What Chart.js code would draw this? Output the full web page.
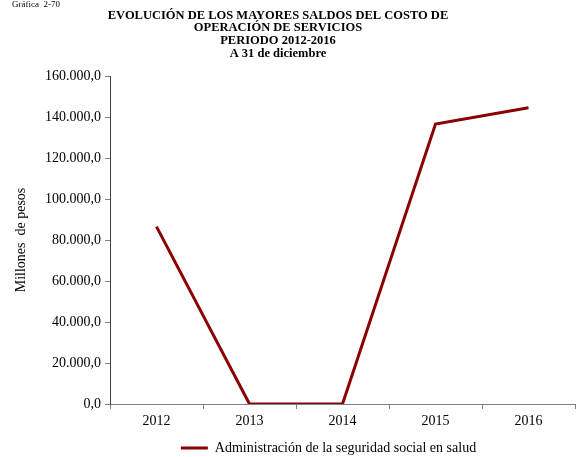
<!DOCTYPE html>
<html>
<head>
<meta charset="utf-8">
<script src="https://cdn.jsdelivr.net/npm/chart.js@4/dist/chart.umd.min.js"></script>
<style>
html,body{margin:0;padding:0;background:#fff;}
#wrap{width:577px;height:457px;position:relative;}
</style>
</head>
<body>
<div id="wrap"><canvas id="c" width="577" height="457"></canvas></div>
<script>
const categories = ['2012', '2013', '2014', '2015', '2016'];
const seriesName = 'Administración de la seguridad social en salud';
const seriesValues = [86500, 0, 0, 136600, 144500];
const yTicks = [0, 20000, 40000, 60000, 80000, 100000, 120000, 140000, 160000];
const titleLines = ['EVOLUCIÓN DE LOS MAYORES SALDOS DEL COSTO DE', 'OPERACIÓN DE SERVICIOS', 'PERIODO 2012-2016', 'A 31 de diciembre'];
const figureLabel = 'Gráfica  2-70';
const yTitle = 'Millones  de pesos';

const FONT = '"Liberation Serif", "Times New Roman", serif';

function fmt(v) {
  const s = Math.round(v).toString().replace(/\B(?=(\d{3})+(?!\d))/g, '.');
  return s + ',0';
}

const titlePlugin = {
  id: 'titleText',
  afterLayout(chart) {
    if (chart.legend) {
      chart.legend.top += 8;
      chart.legend.bottom += 8;
      chart.legend.left -= 14;
      chart.legend.right -= 14;
    }
  },
  afterDraw(chart) {
    const ctx = chart.ctx;
    ctx.save();
    ctx.fillStyle = '#000';
    ctx.textBaseline = 'middle';
    ctx.font = '9px ' + FONT;
    ctx.textAlign = 'left';
    ctx.fillText(figureLabel, 12, 5);
    ctx.font = 'bold 12.5px ' + FONT;
    ctx.textAlign = 'center';
    titleLines.forEach((t, i) => ctx.fillText(t, 278, 15.5 + i * 12.7));
    ctx.restore();
  }
};

new Chart(document.getElementById('c'), {
  type: 'line',
  data: {
    labels: categories,
    datasets: [{
      label: seriesName,
      data: seriesValues,
      borderColor: '#8B0000',
      backgroundColor: '#8B0000',
      borderWidth: 3,
      pointRadius: 0,
      pointHoverRadius: 0,
      tension: 0,
      fill: false,
      pointStyle: 'line'
    }]
  },
  options: {
    responsive: false,
    animation: false,
    devicePixelRatio: 1,
    layout: { padding: { top: 76, right: 2, left: 0, bottom: 0 } },
    plugins: {
      title: { display: false },
      tooltip: { enabled: false },
      legend: {
        position: 'bottom',
        fullSize: false,
        labels: {
          usePointStyle: true,
          pointStyle: 'line',
          pointStyleWidth: 27,
          boxHeight: 13,
          padding: 6,
          color: '#000',
          font: { family: FONT, size: 14 }
        }
      }
    },
    scales: {
      x: {
        offset: true,
        afterFit(axis) { axis.height = 23; },
        grid: {
          offset: true,
          drawOnChartArea: false,
          drawTicks: true,
          tickLength: 5,
          color: '#808080'
        },
        border: { display: true, color: '#808080', width: 1 },
        ticks: {
          color: '#000',
          padding: 4,
          maxRotation: 0,
          font: { family: FONT, size: 14 }
        }
      },
      y: {
        min: 0,
        max: 160000,
        afterFit(axis) { axis.width = 110; },
        afterBuildTicks(axis) { axis.ticks = yTicks.map(v => ({ value: v })); },
        grid: {
          drawOnChartArea: false,
          drawTicks: true,
          tickLength: 5,
          color: '#808080'
        },
        border: { display: true, color: '#404040', width: 1 },
        ticks: {
          color: '#000',
          padding: 4,
          callback: v => fmt(v),
          font: { family: FONT, size: 14 }
        },
        title: {
          display: true,
          text: yTitle,
          color: '#000',
          padding: { top: 13, bottom: 0 },
          font: { family: FONT, size: 14 }
        }
      }
    }
  },
  plugins: [titlePlugin]
});
</script>
</body>
</html>
